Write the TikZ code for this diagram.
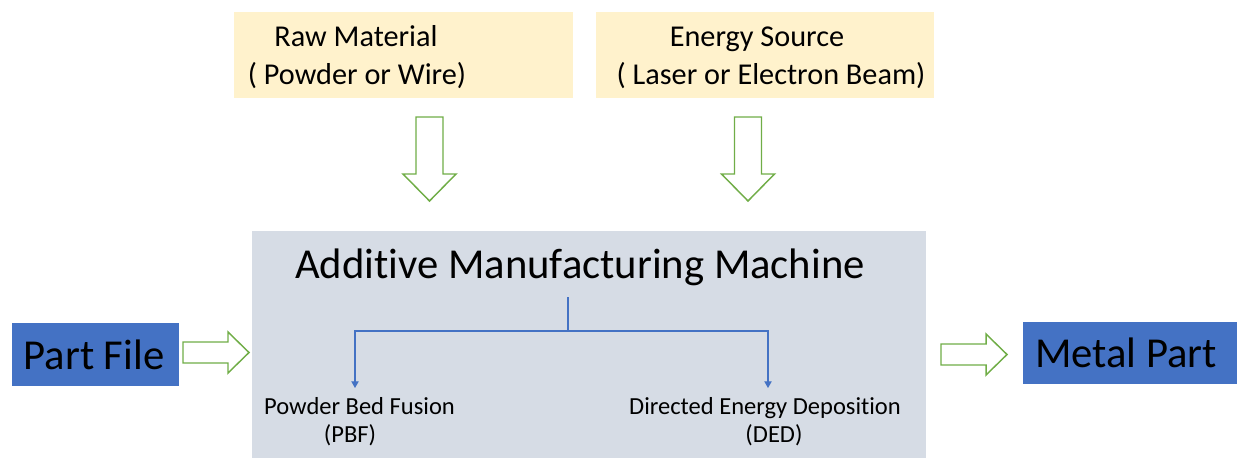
\documentclass[tikz,border=0pt]{standalone}
\usepackage{fontspec}
\setmainfont{Carlito}[Ligatures={NoCommon}]
\usetikzlibrary{arrows.meta}
\definecolor{beige}{HTML}{FFF2CC}
\definecolor{machine}{HTML}{D6DCE5}
\definecolor{oblue}{HTML}{4472C4}
\definecolor{ogreen}{HTML}{70AD47}
\tikzset{
  srcbox/.style={fill=beige,draw=none,inner sep=0pt},
  machbox/.style={fill=machine,draw=none,inner sep=0pt},
  bluebox/.style={fill=oblue,draw=none,inner sep=0pt},
  txt/.style={anchor=base,inner sep=0pt,text=black},
  bigtxt/.style={txt,font=\fontsize{32}{38}\selectfont},
  midtxt/.style={txt,font=\fontsize{22.7}{27}\selectfont},
  smalltxt/.style={txt,font=\fontsize{18.4}{22}\selectfont},
  garrow/.style={draw=ogreen,fill=white,line width=1.1pt,line join=miter},
  tree/.style={draw=oblue,line width=0.8pt},
  treetip/.style={tree,-{Triangle[width=5.5pt,length=5pt]}}
}
\begin{document}
\begin{tikzpicture}[x=0.75pt,y=-0.75pt]
\useasboundingbox (0,0) rectangle (1237,458);
% boxes
\node[srcbox,minimum width=254.25pt,minimum height=64.5pt] (raw) at (403.5,55) {};
\node[srcbox,minimum width=253.5pt,minimum height=64.5pt] (energy) at (765,55) {};
\node[machbox,minimum width=505.5pt,minimum height=170.25pt] (machine) at (589,344.5) {};
\node[bluebox,minimum width=125.25pt,minimum height=47.25pt] (partfile) at (95.5,354.5) {};
\node[bluebox,minimum width=160.5pt,minimum height=46.5pt] (metal) at (1130,353) {};
% texts
\node[midtxt] (rawA) at (356,46) {Raw Material};
\node[midtxt] (rawB) at (357,84) {( Powder or Wire)};
\node[midtxt] (enA) at (757,46) {Energy Source};
\node[midtxt] (enB) at (771,84) {( Laser or Electron Beam)};
\node[bigtxt] (title) at (580,278) {Additive Manufacturing Machine};
\node[bigtxt] (pf) at (94,369) {Part File};
\node[bigtxt] (mp) at (1126,367) {Metal Part};
\node[smalltxt] (pbfA) at (359.5,414) {Powder Bed Fusion};
\node[smalltxt] (pbfB) at (350,442) {(PBF)};
\node[smalltxt] (dedA) at (765,414) {Directed Energy Deposition};
\node[smalltxt] (dedB) at (774,442) {(DED)};
% block arrows
\coordinate (d1) at (429.5,117);
\coordinate (d2) at (748,117);
\foreach \c in {d1,d2}{
  \draw[garrow,shift={(\c)}] (-13.5,0) -- (13.5,0) -- (13.5,57) -- (26.5,57) -- (0,84) -- (-26.5,57) -- (-13.5,57) -- cycle;
}
\coordinate (r1) at (183,352.5);
\coordinate (r2) at (941,354.5);
\foreach \c in {r1,r2}{
  \draw[garrow,shift={(\c)}] (0,-10.5) -- (45,-10.5) -- (45,-20.5) -- (66,0) -- (45,20.5) -- (45,10.5) -- (0,10.5) -- cycle;
}
% tree connector
\coordinate (split) at (568,297);
\coordinate (junction) at (568,331);
\coordinate (tipL) at (355,388);
\coordinate (tipR) at (768,388);
\draw[tree] (split) -- (junction);
\draw[treetip] (junction) -| (tipL);
\draw[treetip] (junction) -| (tipR);
\end{tikzpicture}
\end{document}
